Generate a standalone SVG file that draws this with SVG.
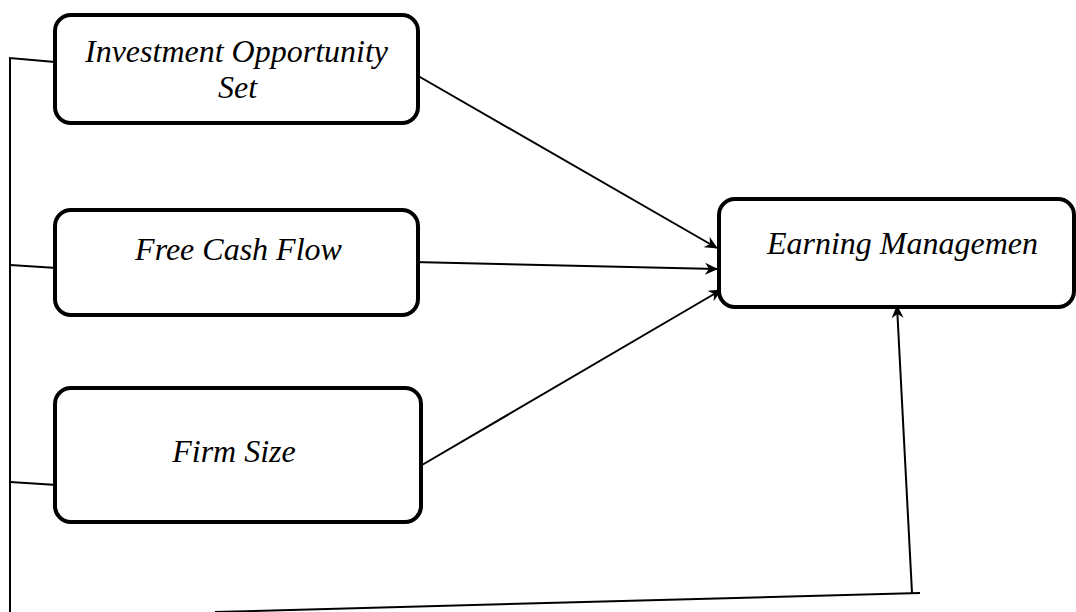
<svg xmlns="http://www.w3.org/2000/svg" width="1076" height="612" viewBox="0 0 1076 612">
<style>
.box{fill:#fff;stroke:#000;stroke-width:4}
.lbl{font-family:"Liberation Serif","Times New Roman",serif;font-style:italic;font-size:32px;fill:#000;text-anchor:middle}
.ln{stroke:#000;stroke-width:2;fill:none}
</style>
<defs>
<marker id="ah" markerWidth="14" markerHeight="12" refX="12" refY="6" orient="auto" markerUnits="userSpaceOnUse">
<path d="M0,0 L13,6 L0,12 L4,6 Z" fill="#000"/>
</marker>
</defs>
<g id="connectors">
<polyline class="ln" points="10,612 10,58 55,62"/>
<line class="ln" x1="10" y1="265" x2="57" y2="268"/>
<line class="ln" x1="10" y1="482" x2="57" y2="485"/>
<line class="ln" x1="215" y1="612" x2="920" y2="593"/>
<line class="ln" x1="912" y1="593" x2="897" y2="306" marker-end="url(#ah)"/>
<line class="ln" x1="413" y1="73" x2="717" y2="248" marker-end="url(#ah)"/>
<line class="ln" x1="413" y1="262" x2="717" y2="269" marker-end="url(#ah)"/>
<line class="ln" x1="422" y1="465" x2="721" y2="290" marker-end="url(#ah)"/>
</g>
<g id="n1">
<rect class="box" x="55" y="15" width="363" height="108" rx="16"/>
<text class="lbl" x="236.5" y="62">Investment Opportunity</text>
<text class="lbl" x="237.5" y="98">Set</text>
</g>
<g id="n2">
<rect class="box" x="55" y="210" width="363" height="105" rx="16"/>
<text class="lbl" x="238.5" y="260">Free Cash Flow</text>
</g>
<g id="n3">
<rect class="box" x="55" y="388" width="366" height="134" rx="16"/>
<text class="lbl" x="234" y="462">Firm Size</text>
</g>
<g id="n4">
<rect class="box" x="719" y="199" width="355" height="108" rx="16"/>
<text class="lbl" x="902.5" y="254">Earning Managemen</text>
</g>
</svg>
